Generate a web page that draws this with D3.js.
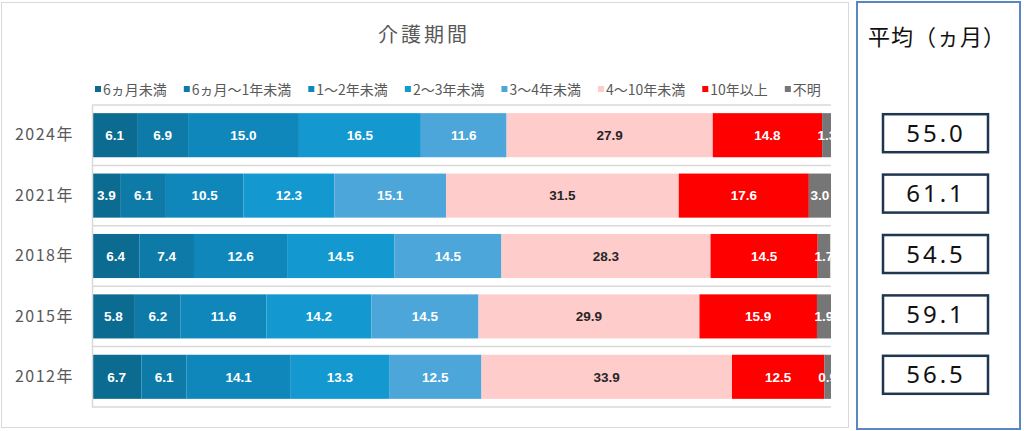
<!DOCTYPE html>
<html>
<head>
<meta charset="utf-8">
<script src="https://cdn.jsdelivr.net/npm/d3@7"></script>
<style>
  body { margin: 0; background: #fff; }
</style>
</head>
<body>
<div id="container"></div>
<script>
/* CONSTANTS AND GLOBALS */
const width = 1024,
  height = 431,
  plotLeft = 92,
  plotRight = 831,
  plotTop = 105,
  plotBottom = 407;

/* DATA */
const years = ["2024年", "2021年", "2018年", "2015年", "2012年"];
const categories = ["6ヵ月未満", "6ヵ月～1年未満", "1～2年未満", "2～3年未満", "3～4年未満", "4～10年未満", "10年以上", "不明"];
const colors = ["#0b6b90", "#0e7aa7", "#1087bb", "#1398cf", "#4da6d9", "#ffcccc", "#ff0000", "#767676"];
const v2024 = [6.1, 6.9, 15.0, 16.5, 11.6, 27.9, 14.8, 1.3];
const v2021 = [3.9, 6.1, 10.5, 12.3, 15.1, 31.5, 17.6, 3.0];
const v2018 = [6.4, 7.4, 12.6, 14.5, 14.5, 28.3, 14.5, 1.7];
const v2015 = [5.8, 6.2, 11.6, 14.2, 14.5, 29.9, 15.9, 1.9];
const v2012 = [6.7, 6.1, 14.1, 13.3, 12.5, 33.9, 12.5, 0.9];
const averages = [55.0, 61.1, 54.5, 59.1, 56.5];

const rows = [v2024, v2021, v2018, v2015, v2012];
const table = years.map((y, i) => {
  const o = { year: y };
  categories.forEach((c, j) => o[c] = rows[i][j]);
  return o;
});

const svg = d3.select("#container")
  .append("svg")
  .attr("width", width)
  .attr("height", height)
  .style("background-color", "white")
  .style("font-family", "'Noto Sans CJK JP', 'Noto Sans', sans-serif");

/* SCALES */
const xScale = d3.scaleLinear()
  .domain([0, 100])
  .range([plotLeft, plotRight]);

const yScale = d3.scaleBand()
  .domain(years)
  .range([plotTop, plotBottom])
  .paddingInner(0.27)
  .paddingOuter(0.135);

const colorScale = d3.scaleOrdinal()
  .domain(categories)
  .range(colors);

const series = d3.stack().keys(categories)(table);

/* FRAMES */
svg.append("rect")
  .attr("x", 1.5).attr("y", 2.5)
  .attr("width", 847).attr("height", 425)
  .attr("fill", "none")
  .attr("stroke", "#d9d9d9");

svg.append("rect")
  .attr("x", 857).attr("y", 2)
  .attr("width", 163).attr("height", 427)
  .attr("fill", "none")
  .attr("stroke", "#5a86c4")
  .attr("stroke-width", 2);

/* TITLE */
svg.append("text")
  .attr("x", 424).attr("y", 42)
  .attr("text-anchor", "middle")
  .style("font-size", "20px")
  .style("letter-spacing", "3px")
  .style("fill", "#595959")
  .text("介護期間");

/* LEGEND */
const legend = svg.append("g").attr("class", "legend");
let lx = 95;
categories.forEach(c => {
  const g = legend.append("g").attr("transform", `translate(${lx},0)`);
  g.append("rect")
    .attr("x", 0).attr("y", 86)
    .attr("width", 6).attr("height", 6)
    .attr("fill", colorScale(c));
  const t = g.append("text")
    .attr("x", 8).attr("y", 94.5)
    .style("font-size", "14px")
    .style("fill", "#595959")
    .text(c);
  lx += 8 + t.node().getComputedTextLength() + 17;
});

/* GRID */
const grid = d3.range(years.length + 1).map(i => plotTop + i * yScale.step());
svg.append("g")
  .selectAll("line")
  .data(grid)
  .join("line")
  .attr("x1", plotLeft).attr("x2", plotRight)
  .attr("y1", d => d).attr("y2", d => d)
  .attr("stroke", "#d9d9d9")
  .attr("stroke-width", 1.5);

svg.append("defs").append("clipPath")
  .attr("id", "plotclip")
  .append("rect")
  .attr("x", plotLeft).attr("y", 0)
  .attr("width", plotRight - plotLeft).attr("height", height);

/* BARS */
const layers = svg.append("g")
  .attr("clip-path", "url(#plotclip)")
  .selectAll("g.layer")
  .data(series)
  .join("g")
  .attr("class", "layer")
  .attr("fill", d => colorScale(d.key));

layers.selectAll("rect")
  .data(d => d)
  .join("rect")
  .attr("x", d => xScale(d[0]))
  .attr("y", d => yScale(d.data.year))
  .attr("width", d => xScale(d[1]) - xScale(d[0]))
  .attr("height", yScale.bandwidth());

layers.selectAll("text")
  .data(d => d.map(p => ({ p, key: d.key })))
  .join("text")
  .attr("x", d => (xScale(d.p[0]) + xScale(d.p[1])) / 2)
  .attr("y", d => yScale(d.p.data.year) + yScale.bandwidth() / 2)
  .attr("dy", "0.36em")
  .attr("text-anchor", "middle")
  .style("font-family", "'Liberation Sans', Arial, sans-serif")
  .style("font-weight", "bold")
  .style("font-size", "13.5px")
  .style("fill", d => d.key === "4～10年未満" ? "#262626" : "#ffffff")
  .text(d => d.p.data[d.key].toFixed(1));

/* AXIS */
svg.append("g")
  .attr("class", "y-axis")
  .attr("transform", `translate(${plotLeft},0)`)
  .call(d3.axisLeft(yScale).tickSize(0).tickPadding(18))
  .call(g => g.select(".domain").attr("stroke", "#d9d9d9").attr("stroke-width", 1.5))
  .selectAll("text")
  .style("font-family", "'Noto Sans CJK JP', sans-serif")
  .style("font-size", "16px")
  .style("letter-spacing", "1.5px")
  .style("fill", "#595959");

/* AVERAGE PANEL */
svg.append("text")
  .attr("x", 937).attr("y", 45)
  .attr("text-anchor", "middle")
  .style("font-size", "22px")
  .style("letter-spacing", "1px")
  .style("fill", "#111")
  .text("平均（ヵ月）");

const avg = svg.append("g")
  .selectAll("g")
  .data(averages.map((v, i) => ({ v, year: years[i] })))
  .join("g")
  .attr("transform", d => `translate(0,${yScale(d.year) + yScale.bandwidth() / 2 - 2})`);

avg.append("rect")
  .attr("x", 883).attr("y", -19)
  .attr("width", 105).attr("height", 38)
  .attr("fill", "white")
  .attr("stroke", "#1f3550")
  .attr("stroke-width", 2.5);

avg.append("text")
  .attr("x", 936).attr("y", 0)
  .attr("dy", "0.36em")
  .attr("text-anchor", "middle")
  .style("font-family", "'Noto Sans', sans-serif")
  .style("font-size", "24px")
  .style("letter-spacing", "3px")
  .style("fill", "#111")
  .text(d => d.v.toFixed(1));
</script>
</body>
</html>
